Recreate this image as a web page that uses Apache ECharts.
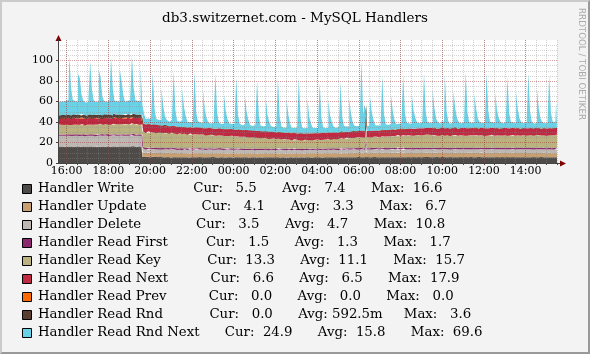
<!DOCTYPE html>
<html>
<head>
<meta charset="utf-8">
<script src="https://cdn.jsdelivr.net/npm/echarts@6/dist/echarts.min.js"></script>
<style>
html, body { margin: 0; padding: 0; background: #f3f3f3; }
#chart { position: absolute; left: 0; top: 0; width: 590px; height: 354px; }
#frame { position: absolute; left: 0; top: 0; width: 590px; height: 354px; box-sizing: border-box;
         border: 2px solid; border-color: #cbcbcb #999 #999 #cbcbcb; pointer-events: none; }
</style>
</head>
<body>
<div id="chart"></div>
<div id="frame"></div>
<script>
// time base: one sample every 5 minutes, 15:35 -> 15:30 next day
var startMin = 15 * 60 + 35;
var stepMin = 5;

var names = ['Handler Write', 'Handler Update', 'Handler Delete', 'Handler Read First', 'Handler Read Key',
	'Handler Read Next', 'Handler Read Prev', 'Handler Read Rnd', 'Handler Read Rnd Next'];
var colors = ['#4D4A47', '#C79F71', '#BDB8B3', '#8C286E', '#BAB27F', '#C02942', '#FA6900', '#5A3D31', '#69D2E7'];
var curVals = [5.5, 4.1, 3.5, 1.5, 13.3, 6.6, 0.0, 0.0, 24.9];
var avgVals = [7.4, 3.3, 4.7, 1.3, 11.1, 6.5, 0.0, 0.5925, 15.8];
var maxVals = [16.6, 6.7, 10.8, 1.7, 15.7, 17.9, 0.0, 3.6, 69.6];
var yMajor = [20, 40, 60, 80, 100];

// one row per hour (12 samples)
var hWrite = [
15.8,16.0,15.9,16.1,15.7,15.9,16.2,16.0,15.8,15.9,16.1,16.0,
16.1,15.9,16.0,16.3,15.8,15.9,16.0,16.2,16.1,15.9,15.7,16.0,
15.9,16.1,16.0,15.8,16.2,16.0,15.9,16.1,16.3,16.0,15.8,16.1,
16.0,16.2,15.9,16.1,16.0,15.8,16.1,16.6,16.0,15.9,16.1,16.0,
16.2,6.1,5.9,5.8,6.0,5.7,5.9,6.0,5.8,5.9,5.7,5.8,
5.7,5.6,5.5,5.8,5.6,5.4,5.7,5.9,5.6,5.5,5.7,5.6,
5.5,5.7,5.6,5.4,5.8,5.6,5.5,5.7,5.6,5.8,5.5,5.6,
5.6,5.4,5.7,5.5,5.6,5.8,5.5,5.6,5.4,5.7,5.6,5.5,
5.4,5.6,5.5,5.7,5.5,5.4,5.6,5.8,5.5,5.6,5.4,5.5,
5.6,5.5,5.4,5.6,5.7,5.5,5.3,5.6,5.5,5.4,5.6,5.5,
5.5,5.4,5.6,5.5,5.3,5.5,5.6,5.7,5.4,5.5,5.6,5.4,
5.4,5.6,5.5,5.4,5.6,5.5,5.4,5.6,5.5,5.3,5.5,5.6,
5.5,5.6,5.4,5.5,5.7,5.5,5.6,5.5,5.4,5.6,5.5,5.7,
5.6,5.5,5.7,5.6,5.4,5.6,5.5,5.8,5.6,5.5,5.7,5.6,
5.7,5.6,5.5,5.7,5.6,5.8,5.6,5.7,5.5,6.0,5.7,5.6,
5.6,5.7,5.8,5.6,5.5,5.7,5.6,5.8,5.7,5.6,5.8,5.7,
5.7,5.8,5.6,5.7,5.9,5.7,5.6,5.8,5.7,5.9,5.6,5.7,
5.8,5.6,5.7,5.9,5.7,5.6,5.8,5.7,5.9,5.8,5.6,5.7,
5.7,5.9,5.8,5.6,5.7,5.8,5.6,5.9,5.7,5.8,5.6,5.7,
5.6,5.8,5.7,5.9,5.6,5.7,5.8,5.6,5.7,5.9,5.8,5.6,
5.7,5.6,5.8,5.7,5.9,5.6,5.7,5.8,5.6,5.7,5.8,5.7,
5.8,5.7,5.6,5.8,5.7,5.6,5.9,5.7,5.6,5.8,5.7,5.6,
5.6,5.8,5.7,5.6,5.8,5.7,5.5,5.7,5.6,5.8,5.6,5.7,
5.7,5.6,5.8,5.6,5.7,5.5,5.6,5.7,5.6,5.5,5.6,5.5];

var hUpdate = [
0.1,0.1,0.1,0.1,0.1,0.1,0.1,0.1,0.1,0.1,0.1,0.1,
0.1,0.1,0.1,0.1,0.1,0.1,0.1,0.1,0.1,0.1,0.1,0.1,
0.1,0.1,0.1,0.1,0.1,0.1,0.1,0.1,0.1,0.1,0.1,0.1,
0.1,0.1,0.1,0.1,0.1,0.1,0.1,0.1,0.1,0.1,0.1,0.1,
0.1,4.3,4.1,3.9,4.2,4.0,3.8,4.1,4.2,3.9,4.0,4.1,
4.0,3.9,4.2,4.1,3.8,4.0,4.2,3.9,4.1,4.0,3.8,4.1,
3.9,4.1,4.0,3.8,4.2,3.9,4.0,4.1,3.8,4.0,4.1,3.9,
4.0,3.8,3.9,4.1,4.0,3.7,3.9,4.0,4.2,3.9,3.8,4.0,
3.9,4.0,3.8,3.9,4.1,3.8,4.0,3.9,3.7,4.0,3.9,3.8,
3.8,3.9,4.0,3.7,3.9,4.0,3.8,3.9,4.1,3.8,3.7,3.9,
3.9,3.7,3.8,4.0,3.9,3.8,3.6,3.9,3.8,4.0,3.9,3.7,
3.8,3.9,3.7,3.8,4.0,3.9,3.8,3.7,3.9,3.8,4.0,3.8,
3.9,3.8,4.0,3.9,3.7,3.9,4.0,3.8,3.9,4.1,3.8,3.9,
4.0,3.9,3.8,4.1,3.9,4.0,3.8,4.1,3.9,4.0,4.2,3.9,
4.1,4.0,3.9,4.2,4.0,4.1,3.9,4.2,4.0,6.7,4.1,4.0,
4.2,4.0,4.1,3.9,4.2,4.0,4.1,4.3,4.0,4.1,3.9,4.2,
4.0,4.2,4.1,4.0,4.3,4.1,3.9,4.2,4.1,4.0,4.2,4.1,
4.1,4.0,4.2,4.1,3.9,4.2,4.0,4.1,4.3,4.0,4.1,4.2,
4.0,4.2,4.1,4.3,4.0,4.1,4.2,3.9,4.1,4.2,4.0,4.1,
4.2,4.1,4.0,4.2,4.1,4.3,4.0,4.1,4.2,4.0,4.1,4.3,
4.1,4.2,4.0,4.1,4.3,4.0,4.2,4.1,4.0,4.2,4.1,4.0,
4.0,4.1,4.3,4.0,4.1,4.2,4.0,4.1,4.2,4.0,4.3,4.1,
4.2,4.0,4.1,4.2,4.0,4.1,4.3,4.0,4.1,4.2,4.0,4.1,
4.1,4.2,4.0,4.1,4.2,4.0,4.1,4.3,4.0,4.2,4.0,4.1];

var hDelete = [
10.4,10.6,10.5,10.3,10.7,10.5,10.4,10.6,10.5,10.8,10.4,10.5,
10.6,10.4,10.5,10.7,10.3,10.5,10.6,10.4,10.5,10.6,10.3,10.5,
10.5,10.7,10.4,10.5,10.6,10.3,10.5,10.4,10.6,10.5,10.7,10.4,
10.3,10.5,10.6,10.4,10.5,10.7,10.4,10.5,10.6,10.3,10.5,10.4,
10.5,3.8,3.6,3.5,3.7,3.4,3.6,3.5,3.7,3.5,3.4,3.6,
3.5,3.6,3.4,3.5,3.7,3.5,3.4,3.6,3.5,3.3,3.5,3.6,
3.4,3.5,3.6,3.4,3.5,3.3,3.5,3.6,3.4,3.5,3.6,3.4,
3.5,3.4,3.3,3.5,3.6,3.4,3.5,3.3,3.4,3.6,3.5,3.4,
3.3,3.5,3.4,3.6,3.4,3.5,3.3,3.4,3.5,3.4,3.3,3.5,
3.4,3.3,3.5,3.4,3.3,3.5,3.4,3.2,3.4,3.5,3.3,3.4,
3.5,3.4,3.3,3.4,3.5,3.3,3.4,3.5,3.3,3.4,3.2,3.4,
3.3,3.4,3.5,3.3,3.4,3.2,3.4,3.3,3.5,3.4,3.3,3.4,
3.4,3.5,3.3,3.4,3.5,3.4,3.3,3.5,3.4,3.3,3.5,3.4,
3.5,3.4,3.6,3.4,3.3,3.5,3.4,3.6,3.5,3.4,3.5,3.6,
3.4,3.6,3.5,3.4,3.6,3.5,3.7,3.5,3.4,8.5,3.6,3.5,
3.6,3.5,3.7,3.5,3.6,3.4,3.6,3.7,3.5,3.6,3.5,3.7,
3.5,3.7,3.6,3.5,3.7,3.6,3.5,3.8,3.6,3.5,3.7,3.6,
3.6,3.5,3.7,3.6,3.8,3.5,3.6,3.7,3.5,3.6,3.8,3.6,
3.7,3.6,3.5,3.7,3.6,3.8,3.6,3.5,3.7,3.6,3.5,3.7,
3.6,3.7,3.6,3.5,3.7,3.6,3.8,3.6,3.5,3.7,3.6,3.5,
3.5,3.6,3.7,3.6,3.5,3.7,3.6,3.5,3.7,3.6,3.8,3.6,
3.6,3.5,3.6,3.7,3.6,3.5,3.7,3.6,3.5,3.6,3.7,3.5,
3.7,3.6,3.5,3.6,3.7,3.5,3.6,3.7,3.6,3.5,3.6,3.7,
3.6,3.5,3.7,3.6,3.5,3.6,3.7,3.5,3.6,3.7,3.6,3.5];

var hReadFirst = [
1.3,1.2,1.4,1.3,1.2,1.3,1.4,1.3,1.2,1.3,1.4,1.3,
1.2,1.3,1.4,1.3,1.3,1.2,1.3,1.4,1.3,1.2,1.3,1.4,
1.3,1.4,1.2,1.3,1.3,1.4,1.3,1.2,1.3,1.4,1.3,1.2,
1.4,1.3,1.3,1.2,1.4,1.3,1.2,1.3,1.4,1.3,1.3,1.2,
1.3,1.7,1.5,1.4,1.3,1.4,1.3,1.5,1.4,1.3,1.4,1.3,
1.4,1.3,1.4,1.2,1.3,1.4,1.3,1.4,1.2,1.3,1.4,1.3,
1.3,1.4,1.2,1.3,1.3,1.4,1.2,1.3,1.4,1.3,1.2,1.3,
1.2,1.3,1.3,1.4,1.2,1.3,1.3,1.2,1.3,1.4,1.3,1.2,
1.3,1.2,1.3,1.2,1.3,1.4,1.2,1.3,1.2,1.3,1.3,1.2,
1.2,1.3,1.2,1.3,1.1,1.2,1.3,1.2,1.3,1.2,1.1,1.3,
1.2,1.1,1.3,1.2,1.2,1.3,1.1,1.2,1.3,1.2,1.2,1.1,
1.2,1.3,1.1,1.2,1.3,1.2,1.2,1.1,1.3,1.2,1.2,1.3,
1.2,1.2,1.3,1.1,1.2,1.3,1.2,1.2,1.3,1.2,1.1,1.2,
1.3,1.2,1.2,1.3,1.2,1.3,1.2,1.4,1.2,1.3,1.3,1.2,
1.3,1.4,1.2,1.3,1.3,1.2,1.4,1.3,1.3,1.6,1.3,1.4,
1.3,1.4,1.3,1.3,1.4,1.3,1.4,1.3,1.4,1.3,1.3,1.4,
1.4,1.3,1.4,1.3,1.4,1.4,1.3,1.4,1.3,1.4,1.3,1.4,
1.3,1.4,1.4,1.3,1.4,1.3,1.4,1.5,1.3,1.4,1.3,1.4,
1.4,1.3,1.4,1.4,1.3,1.4,1.5,1.3,1.4,1.4,1.3,1.4,
1.3,1.4,1.3,1.5,1.4,1.3,1.4,1.4,1.3,1.5,1.4,1.3,
1.4,1.4,1.3,1.4,1.5,1.3,1.4,1.3,1.4,1.4,1.5,1.3,
1.3,1.4,1.5,1.3,1.4,1.4,1.3,1.5,1.4,1.3,1.4,1.4,
1.4,1.3,1.4,1.4,1.5,1.3,1.4,1.3,1.5,1.4,1.3,1.4,
1.4,1.5,1.3,1.4,1.4,1.3,1.5,1.4,1.3,1.4,1.4,1.5];

var hReadKey = [
9.2,9.6,9.4,9.9,9.3,9.5,9.7,9.1,9.4,9.8,9.6,9.3,
9.5,9.7,10.0,9.4,9.2,9.6,9.9,9.5,9.3,9.7,10.1,9.6,
9.7,10.0,9.5,10.2,9.8,9.6,9.9,9.4,10.1,9.7,9.8,10.0,
9.9,9.6,10.1,9.7,10.0,9.8,9.5,10.2,9.9,9.7,10.1,9.6,
9.8,14.8,15.2,14.6,15.7,14.9,15.3,14.7,15.0,14.5,15.1,14.8,
14.6,14.9,14.3,14.7,14.2,14.5,14.8,14.1,14.4,14.0,14.3,13.9,
14.2,13.8,14.1,13.6,13.9,13.5,13.8,13.4,13.7,13.2,13.5,13.1,
13.4,13.0,13.2,12.8,13.1,12.7,12.9,12.5,12.8,12.4,12.6,12.2,
12.5,12.1,12.3,11.9,12.2,11.7,12.0,11.6,11.8,11.4,11.7,11.2,
11.5,11.1,11.3,10.8,11.0,10.6,10.9,10.4,10.7,10.2,10.5,10.1,
10.3,9.9,10.1,9.6,9.9,9.4,9.7,9.3,9.5,9.1,9.4,9.0,
9.2,8.8,9.1,8.6,8.9,8.5,8.8,8.4,8.7,8.3,8.6,8.4,
8.5,8.2,8.6,8.3,8.7,8.4,8.8,8.5,8.9,8.6,9.0,8.8,
9.1,8.8,9.3,9.0,9.4,9.2,9.6,9.3,9.7,9.5,9.9,9.6,
10.0,9.8,10.2,9.9,10.3,10.1,10.5,10.2,10.4,15.7,10.6,10.3,
10.7,10.5,10.9,10.6,11.0,10.8,11.2,10.9,11.3,11.1,11.4,11.2,
11.6,11.3,11.7,11.5,11.9,11.6,12.0,11.8,12.1,11.9,12.3,12.0,
12.2,12.0,12.4,12.1,12.5,12.3,12.6,12.2,12.7,12.4,12.8,12.5,
12.1,12.4,11.9,12.3,12.0,12.5,12.2,11.9,12.4,12.1,11.8,12.3,
12.0,12.4,12.1,11.8,12.3,12.0,12.4,11.9,12.2,11.7,12.1,12.4,
11.9,12.3,12.0,12.5,12.1,11.8,12.2,11.9,12.3,12.0,12.4,12.1,
11.8,12.2,11.9,12.3,12.0,12.4,12.1,11.8,12.2,11.9,12.3,12.0,
12.1,12.4,12.0,12.6,12.2,11.9,12.3,12.1,12.5,12.2,12.0,12.4,
12.2,12.5,12.1,12.7,12.3,12.0,12.4,12.2,12.6,12.3,12.5,13.3];

var hReadNext = [
5.8,6.3,5.5,6.1,6.6,5.7,6.0,6.4,5.6,6.2,5.9,6.5,
6.1,5.6,6.4,5.9,6.2,5.5,6.3,6.0,5.7,6.5,5.8,6.2,
5.9,6.4,5.7,6.1,5.6,6.3,6.0,5.8,6.6,5.9,6.2,5.7,
6.3,5.8,6.1,5.6,6.4,6.0,5.7,6.2,5.9,6.5,5.8,6.1,
6.0,8.1,7.4,8.3,7.6,8.0,7.2,7.9,7.5,8.2,7.3,7.8,
7.1,7.7,6.9,7.5,7.0,7.6,6.8,7.3,6.9,7.4,6.7,7.2,
6.6,7.2,6.4,7.0,6.5,6.9,6.3,6.8,6.4,7.1,6.5,6.9,
6.3,6.9,6.5,7.1,6.4,6.8,6.2,6.7,6.5,7.0,6.3,6.8,
6.5,7.1,6.4,6.9,6.6,7.2,6.3,6.8,6.5,7.0,6.4,6.9,
6.6,7.0,6.4,7.1,6.5,6.9,6.7,7.2,6.4,6.8,6.6,7.0,
6.5,6.9,6.3,7.0,6.6,6.8,6.4,7.1,6.5,6.9,6.3,6.7,
6.4,6.8,6.2,6.9,6.5,6.7,6.3,7.0,6.4,6.8,6.2,6.6,
6.3,6.7,6.1,6.8,6.4,6.6,6.2,6.9,6.3,6.7,6.1,6.5,
6.2,6.6,6.0,6.7,6.3,6.5,6.1,6.8,6.2,6.6,6.0,6.4,
6.1,6.5,5.9,6.6,6.2,6.4,6.0,6.7,6.3,17.9,6.1,6.5,
6.0,6.4,5.8,6.5,6.1,6.3,5.9,6.6,6.2,6.4,6.0,6.5,
6.2,6.7,6.0,6.6,6.3,6.8,6.1,6.7,6.4,6.9,6.2,6.8,
6.4,7.0,6.3,6.9,6.5,7.1,6.4,6.8,6.6,7.2,6.5,7.0,
6.7,7.3,6.6,7.2,6.9,7.4,6.7,7.1,6.8,7.5,6.9,7.2,
6.8,7.4,6.7,7.3,6.9,7.5,6.8,7.2,6.9,7.6,7.0,7.3,
6.9,7.5,6.8,7.4,7.0,7.6,6.9,7.3,7.0,7.7,7.1,7.4,
6.8,7.3,6.7,7.4,6.9,7.5,6.8,7.2,7.0,7.6,6.9,7.3,
6.7,7.2,6.6,7.3,6.8,7.4,6.7,7.1,6.9,7.5,6.8,7.2,
6.6,7.1,6.5,7.2,6.7,7.3,6.6,7.0,6.8,7.4,6.7,6.6];

var hReadPrev = [
0,0,0,0,0,0,0,0,0,0,0,0, 0,0,0,0,0,0,0,0,0,0,0,0,
0,0,0,0,0,0,0,0,0,0,0,0, 0,0,0,0,0,0,0,0,0,0,0,0,
0,0,0,0,0,0,0,0,0,0,0,0, 0,0,0,0,0,0,0,0,0,0,0,0,
0,0,0,0,0,0,0,0,0,0,0,0, 0,0,0,0,0,0,0,0,0,0,0,0,
0,0,0,0,0,0,0,0,0,0,0,0, 0,0,0,0,0,0,0,0,0,0,0,0,
0,0,0,0,0,0,0,0,0,0,0,0, 0,0,0,0,0,0,0,0,0,0,0,0,
0,0,0,0,0,0,0,0,0,0,0,0, 0,0,0,0,0,0,0,0,0,0,0,0,
0,0,0,0,0,0,0,0,0,0,0,0, 0,0,0,0,0,0,0,0,0,0,0,0,
0,0,0,0,0,0,0,0,0,0,0,0, 0,0,0,0,0,0,0,0,0,0,0,0,
0,0,0,0,0,0,0,0,0,0,0,0, 0,0,0,0,0,0,0,0,0,0,0,0,
0,0,0,0,0,0,0,0,0,0,0,0, 0,0,0,0,0,0,0,0,0,0,0,0,
0,0,0,0,0,0,0,0,0,0,0,0, 0,0,0,0,0,0,0,0,0,0,0,0];

var hReadRnd = [
3.4,3.5,3.6,3.4,3.5,3.3,3.5,3.6,3.4,3.5,3.6,3.5,
3.5,3.4,3.5,3.6,3.3,3.5,3.4,3.6,3.5,3.4,3.5,3.3,
3.6,3.5,3.4,3.5,3.6,3.4,3.5,3.3,3.5,3.6,3.4,3.5,
3.4,3.6,3.5,3.4,3.5,3.6,3.5,3.4,3.6,3.5,3.4,3.5,
3.5,0,0,0,0,0,0,0,0,0,0,0,
0,0,0,0,0,0,0,0,0,0,0,0, 0,0,0,0,0,0,0,0,0,0,0,0,
0,0,0,0,0,0,0,0,0,0,0,0, 0,0,0,0,0,0,0,0,0,0,0,0,
0,0,0,0,0,0,0,0,0,0,0,0, 0,0,0,0,0,0,0,0,0,0,0,0,
0,0,0,0,0,0,0,0,0,0,0,0, 0,0,0,0,0,0,0,0,0,0,0,0,
0,0,0,0,0,0,0,0,0,0,0,0, 0,0,0,0,0,0,0,0,0,0,0,0,
0,0,0,0,0,0,0,0,0,0,0,0, 0,0,0,0,0,0,0,0,0,0,0,0,
0,0,0,0,0,0,0,0,0,0,0,0, 0,0,0,0,0,0,0,0,0,0,0,0,
0,0,0,0,0,0,0,0,0,0,0,0, 0,0,0,0,0,0,0,0,0,0,0,0,
0,0,0,0,0,0,0,0,0,0,0,0, 0,0,0,0,0,0,0,0,0,0,0,0,
0,0,0,0,0,0,0,0,0,0,0,0];

var hReadRndNext = [
13.2,12.8,13.5,12.9,13.4,12.7,14.1,58.6,27.5,14.0,13.1,12.8,
39.7,37.0,19.5,13.6,12.9,13.3,14.5,52.0,26.0,13.8,12.7,13.2,
44.0,35.5,18.8,13.1,12.6,13.4,14.2,57.0,24.5,13.5,13.0,12.9,
44.0,33.8,19.2,13.3,12.8,13.6,14.0,57.0,25.8,13.9,13.2,13.4,
46.6,18.5,10.2,5.4,4.8,5.6,6.3,50.2,15.6,5.8,5.1,4.7,
36.9,19.2,9.8,5.3,4.6,5.2,6.5,53.9,16.2,5.7,4.9,5.4,
37.2,18.4,10.5,5.6,4.8,5.3,6.1,54.2,14.8,5.9,5.2,4.9,
37.0,17.6,9.4,5.1,4.7,5.5,6.4,54.0,15.9,5.4,5.0,5.3,
34.2,16.8,9.9,5.5,4.9,5.1,6.2,50.6,15.1,5.6,4.8,5.2,
33.9,17.3,10.1,5.2,4.6,5.4,6.0,49.4,14.6,5.8,5.1,4.9,
32.8,16.5,9.6,5.4,4.8,5.2,6.3,52.6,15.4,5.5,4.9,5.3,
32.4,17.1,9.2,5.0,4.7,5.5,6.1,53.6,14.9,5.7,5.2,5.0,
33.9,16.2,9.8,5.3,4.9,5.1,6.4,48.9,15.3,5.4,4.8,5.1,
31.5,16.9,10.3,5.6,4.7,5.3,6.2,47.9,14.7,5.9,5.0,5.2,
32.0,17.4,9.5,5.2,4.8,5.6,6.0,69.6,16.8,1.0,5.3,5.1,
32.9,17.8,10.0,5.4,4.9,5.2,6.3,52.1,15.8,5.6,5.1,5.4,
34.4,18.1,9.7,5.1,4.8,5.5,6.5,52.9,16.4,5.8,5.2,4.9,
33.1,17.5,10.4,5.6,5.0,5.3,6.2,53.8,15.2,5.5,4.9,5.3,
37.4,18.6,9.9,5.3,4.7,5.4,6.6,52.7,16.1,5.9,5.1,5.0,
36.3,17.9,10.6,5.5,4.9,5.2,6.3,55.2,15.5,5.6,5.3,5.1,
33.9,18.3,9.6,5.2,4.8,5.6,6.1,53.6,16.6,5.7,5.0,5.2,
35.7,17.2,10.2,5.4,5.0,5.3,6.4,50.4,15.0,5.8,5.2,4.9,
35.6,18.0,9.8,5.1,4.7,5.5,6.2,53.6,16.3,5.6,5.1,5.3,
38.7,18.8,10.1,5.5,4.9,5.4,6.5,51.7,15.7,5.9,5.6,24.9];

var seriesData = [hWrite, hUpdate, hDelete, hReadFirst, hReadKey, hReadNext, hReadPrev, hReadRnd, hReadRndNext];

function pad2(n) { return (n < 10 ? '0' : '') + n; }
var times = [];
for (var i = 0; i < hWrite.length; i++) {
	var m = (startMin + i * stepMin) % 1440;
	times.push(pad2(Math.floor(m / 60)) + ':' + pad2(m % 60));
}
function minuteOf(idx) { return (startMin + idx * stepMin) % 1440; }
function isHalfHour(idx) { return minuteOf(idx) % 30 === 0; }
function isTwoHour(idx) { return minuteOf(idx) % 120 === 0; }

// rrdtool style number: %6.1lf%s
function fmt(v) {
	var unit = ' ';
	if (v !== 0 && Math.abs(v) < 1) { v = v * 1000; unit = 'm'; }
	var t = v.toFixed(1);
	while (t.length < 6) t = ' ' + t;
	return t + unit;
}
function padName(n) { while (n.length < 27) n += ' '; return n; }

var gridColor = 'rgba(140,140,140,0.38)';
var majorColor = 'rgba(150,30,30,0.42)';
var axisColor = '#444';
var serif = 'DejaVu Serif';

var chart = echarts.init(document.getElementById('chart'));

var series = seriesData.map(function (d, k) {
	return {
		name: names[k],
		type: 'line',
		stack: 'all',
		data: d,
		step: 'middle',
		symbol: 'none',
		showSymbol: false,
		lineStyle: { width: 0 },
		areaStyle: { color: colors[k], opacity: 1 },
		itemStyle: { color: colors[k] },
		z: 2
	};
});
// red major grid lines on top of the graph
series[series.length - 1].markLine = {
	silent: true,
	symbol: ['none', 'none'],
	label: { show: false },
	lineStyle: { color: majorColor, type: [1, 1], width: 1 },
	data: yMajor.map(function (v) { return { yAxis: v }; })
};

// legend rows
var graphic = [];
names.forEach(function (n, k) {
	var cy = 189 + k * 18;
	graphic.push({
		type: 'rect', shape: { x: 22.5, y: cy - 4.5, width: 9, height: 9 },
		style: { fill: colors[k], stroke: '#000', lineWidth: 1 }
	});
	graphic.push({
		type: 'text', x: 38, y: cy,
		style: {
			text: padName(n) + 'Cur:' + fmt(curVals[k]) + '     Avg:' + fmt(avgVals[k]) + '     Max:' + fmt(maxVals[k]),
			font: '13.3px "DejaVu Serif"', fill: '#000', align: 'left', verticalAlign: 'middle'
		}
	});
});
// axis arrows
graphic.push({ type: 'polyline', shape: { points: [[557, 163.5], [561, 163.5]] }, style: { stroke: axisColor, lineWidth: 1 } });
graphic.push({ type: 'polygon', shape: { points: [[560, 160.5], [566, 163.5], [560, 166.5]] }, style: { fill: '#7f0000' } });
graphic.push({ type: 'polyline', shape: { points: [[58.5, 40], [58.5, 37]] }, style: { stroke: axisColor, lineWidth: 1 } });
graphic.push({ type: 'polygon', shape: { points: [[55.5, 41], [58.5, 35], [61.5, 41]] }, style: { fill: '#7f0000' } });
// watermark
graphic.push({
	type: 'text', x: 581, y: 64, rotation: -Math.PI / 2,
	style: { text: 'RRDTOOL / TOBI OETIKER', font: '8.7px "DejaVu Sans"', fill: '#aaa', align: 'center', verticalAlign: 'middle' }
});

chart.setOption({
	animation: false,
	backgroundColor: '#f3f3f3',
	title: {
		text: 'db3.switzernet.com - MySQL Handlers',
		left: 'center', top: 6,
		textStyle: { fontFamily: serif, fontSize: 13.5, fontWeight: 'normal', color: '#000' }
	},
	grid: { left: 58, right: 33, top: 40, bottom: 191, show: true, backgroundColor: '#fff', borderWidth: 0 },
	xAxis: [{
		type: 'category', data: times, boundaryGap: false, z: 3,
		axisLine: { show: true, lineStyle: { color: axisColor, width: 1 } },
		axisTick: { show: true, interval: isHalfHour, length: 2, lineStyle: { color: axisColor } },
		axisLabel: { interval: isTwoHour, margin: 3, fontFamily: serif, fontSize: 11, color: '#000' },
		splitLine: { show: true, interval: isHalfHour, lineStyle: { color: gridColor, type: [1, 1], width: 1 } }
	}, {
		type: 'category', data: times, boundaryGap: false, position: 'bottom', z: 4,
		axisLine: { show: false }, axisTick: { show: false }, axisLabel: { show: false },
		splitLine: { show: true, interval: isTwoHour, lineStyle: { color: majorColor, type: [1, 1], width: 1 } }
	}],
	yAxis: {
		type: 'value', min: 0, max: 120, interval: 20, z: 3,
		axisLine: { show: true, lineStyle: { color: axisColor, width: 1 } },
		axisTick: { show: true, length: 2, lineStyle: { color: axisColor } },
		axisLabel: { showMaxLabel: false, margin: 5, fontFamily: serif, fontSize: 11, color: '#000' },
		splitLine: { show: false },
		minorTick: { show: false, splitNumber: 4 },
		minorSplitLine: { show: true, lineStyle: { color: gridColor, type: [1, 1], width: 1 } }
	},
	graphic: graphic,
	series: series
});
</script>
</body>
</html>
